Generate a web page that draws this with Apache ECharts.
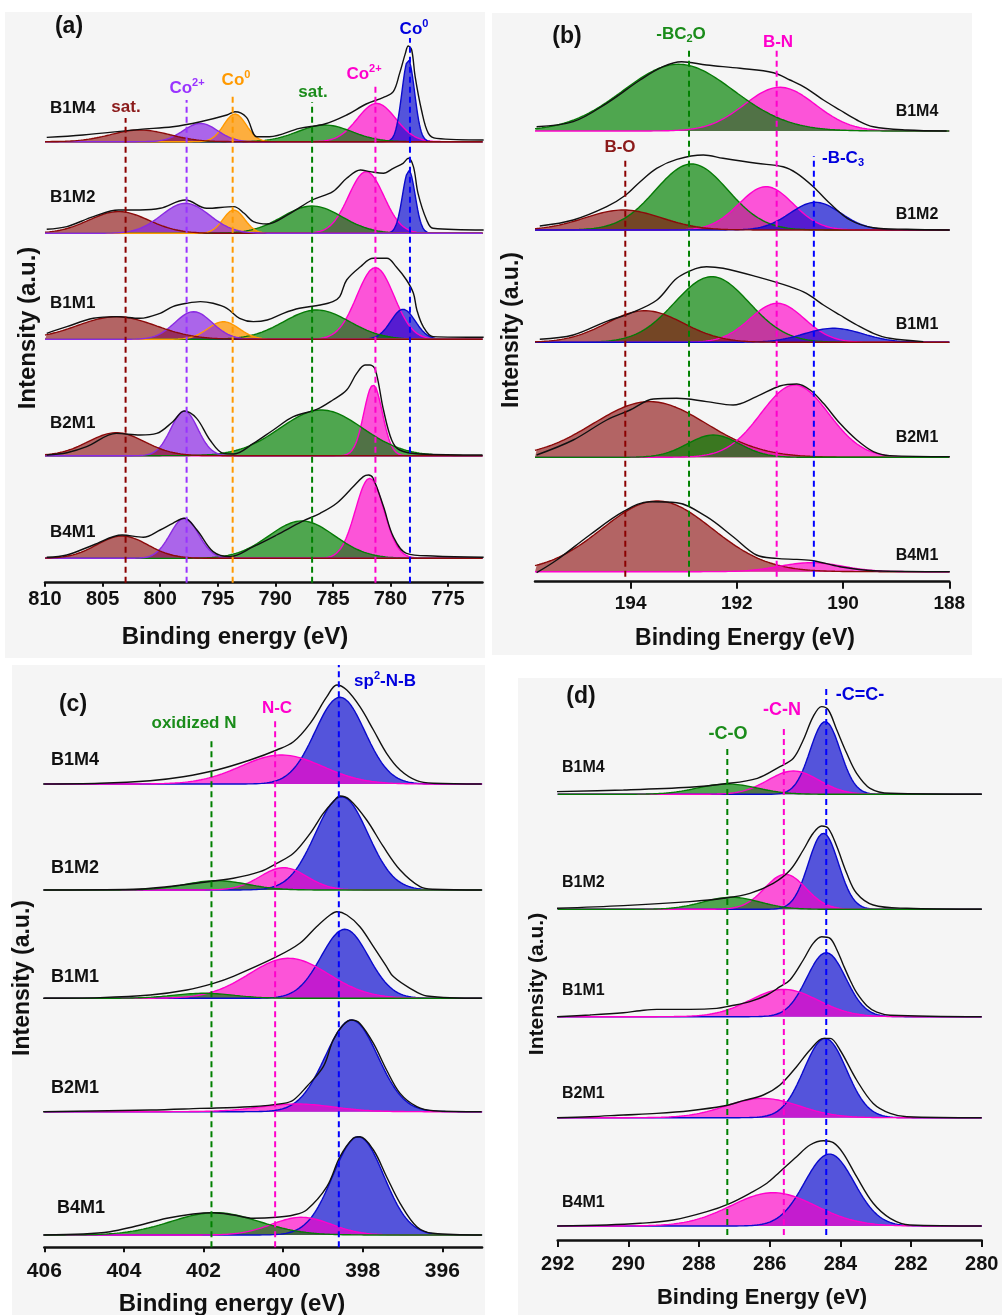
<!DOCTYPE html>
<html>
<head>
<meta charset="utf-8">
<script src="https://cdn.jsdelivr.net/npm/echarts@6/dist/echarts.min.js"></script>
<style>
  html, body { margin: 0; padding: 0; background: #ffffff; }
  #chart { width: 1002px; height: 1315px; }
</style>
</head>
<body>
<div id="chart"></div>
<script>
// ---------------------------------------------------------------------------
// XPS data. Samples are stacked top to bottom in this order.
// Fitted components: [component, centre (eV), height (a.u.), FWHM (eV)]
// Measured spectra:  [binding energy (eV), intensity above the sample baseline]
// ---------------------------------------------------------------------------
const samples = ['B1M4', 'B1M2', 'B1M1', 'B2M1', 'B4M1'];

// (a) Co 2p
const coTicks = [775, 780, 785, 790, 795, 800, 805, 810];
const coMarkers = [803.0, 797.7, 793.7, 786.8, 781.3, 778.3];
const coMarkerKeys = ['red', 'purple', 'orange', 'green', 'magenta', 'blue'];
const coFitB1M4 = [['magenta', 781.2, 38.3, 3.9], ['blue', 778.45, 81.7, 1.3], ['green', 785.7, 16.7, 5.5], ['orange', 793.5, 27.7, 2.3], ['purple', 796.5, 18.3, 3.5], ['red', 801.75, 11.7, 6.0]];
const coFitB1M2 = [['magenta', 782.1, 61.7, 3.6], ['blue', 778.4, 62.7, 1.3], ['green', 786.8, 27.3, 6.1], ['orange', 793.6, 23.3, 2.2], ['red', 803.6, 21.7, 6.1], ['purple', 797.8, 30, 4.9]];
const coFitB1M1 = [['magenta', 781.3, 71.7, 3.8], ['blue', 778.9, 30, 2.5], ['green', 786.4, 29.3, 6.7], ['orange', 794.5, 17.6, 3.2], ['purple', 797.1, 27.6, 3.8], ['red', 803.8, 22.6, 8.0]];
const coFitB2M1 = [['magenta', 781.5, 70.7, 1.9], ['green', 786.0, 45.7, 8.4], ['purple', 797.9, 44.7, 2.75], ['red', 803.8, 23, 5.8]];
const coFitB4M1 = [['magenta', 781.8, 80, 2.9], ['green', 787.7, 37.3, 6.7], ['purple', 797.9, 40, 2.9], ['red', 803.3, 22.3, 5.2]];
const coRawB1M4 = [[809.85, 4.3], [806.7, 6.7], [801.75, 12.3], [798.9, 15], [796.5, 20], [794.2, 26.7], [793.5, 30], [792.5, 24.3], [791.6, 5], [790.5, 5], [787.9, 13.3], [785.7, 17.7], [783.8, 26.7], [782.1, 37.7], [780.6, 44.3], [779.75, 50], [779.2, 68.3], [778.7, 88.3], [778.45, 95.7], [778.15, 91.7], [777.85, 65], [777.3, 31.7], [776.7, 8.3], [776.0, 3.3], [771.9, 1.7]];
const coRawB1M2 = [[809.85, 4], [808.1, 6.7], [805.8, 16.7], [803.6, 23.3], [801.75, 23.3], [800.0, 25], [797.8, 33.3], [795.96, 25], [793.6, 26.7], [792.7, 20], [791.9, 11.7], [790.7, 9.3], [788.7, 20], [786.8, 33.3], [785.0, 41.7], [783.8, 55], [782.6, 63.3], [781.77, 61.7], [780.6, 60], [779.75, 65], [778.9, 70], [778.45, 75], [778.0, 66.7], [777.6, 40], [776.85, 13.3], [776.3, 5], [771.9, 3.3]];
const coRawB1M1 = [[809.85, 6], [808.1, 12.7], [805.8, 21], [803.8, 22.7], [801.75, 21], [800.0, 26], [798.9, 32.7], [797.7, 36], [796.5, 37.7], [795.4, 36], [794.2, 31], [793.1, 21], [791.9, 17.7], [790.7, 19.3], [789.3, 26], [787.9, 31], [786.1, 34.3], [785.0, 37.7], [784.4, 42.7], [783.8, 59.3], [782.6, 72.6], [781.5, 81], [780.3, 81], [779.5, 72.6], [778.6, 59.3], [778.0, 46], [777.7, 29.3], [777.15, 12.7], [776.3, 2.7], [771.9, 2]];
const coRawB2M1 = [[809.85, 0.7], [808.1, 3], [806.38, 9], [803.8, 22.3], [801.75, 20.7], [800.3, 22.3], [798.9, 34], [797.9, 44.7], [796.83, 37.3], [795.67, 15.7], [794.51, 2.3], [793.6, 1.7], [791.9, 12.3], [790.17, 25.7], [788.43, 39], [786.4, 46.3], [785.0, 55.7], [783.8, 65.7], [782.93, 82.3], [782.2, 90.7], [781.77, 90.7], [781.3, 85.7], [780.6, 45.7], [779.89, 15.7], [779.2, 5.7], [777.43, 1.7], [772.0, 0.7]];
const coRawB4M1 = [[809.85, 1], [808.1, 3.3], [805.8, 13.3], [803.3, 23.3], [801.46, 21], [800.0, 28.3], [798.9, 35], [797.9, 40], [796.8, 28.3], [795.4, 6.7], [793.93, 1.7], [791.9, 11.7], [789.88, 23.3], [787.7, 36.7], [786.1, 45], [784.67, 55], [783.22, 71.7], [782.35, 81.7], [781.9, 83.3], [781.5, 80], [780.6, 51.7], [779.75, 21.7], [778.6, 5], [776.3, 2.3], [771.9, 1]];

// (b) B 1s
const bTicks = [188, 190, 192, 194];
const bMarkers = [194.1, 192.9, 191.25, 190.55];
const bMarkerKeys = ['red', 'green', 'magenta', 'blue'];
const bFitB1M4 = [['magenta', 191.19, 43.7, 1.57], ['green', 193.1, 66.7, 2.45]];
const bFitB1M2 = [['green', 192.85, 66, 1.6], ['magenta', 191.45, 43.3, 1.2], ['blue', 190.52, 27.7, 1.13], ['red', 194.14, 20, 1.7]];
const bFitB1M1 = [['green', 192.47, 65.6, 1.65], ['magenta', 191.24, 39, 1.2], ['blue', 190.18, 14, 1.3], ['red', 193.73, 31.6, 1.7]];
const bFitB2M1 = [['red', 193.64, 55.7, 2.5], ['magenta', 190.91, 72.3, 1.5], ['green', 192.44, 22.3, 1.15]];
const bFitB4M1 = [['red', 193.5, 70.7, 2.45], ['magenta', 190.6, 9, 1.4]];
const bRawB1M4 = [[195.77, 4.3], [195.08, 9.3], [194.45, 27.7], [193.82, 51], [193.39, 64.3], [193.04, 69.3], [192.57, 66], [191.94, 62.7], [191.31, 58.3], [191.0, 51], [190.69, 42.7], [190.37, 31], [190.06, 21], [189.74, 11], [189.43, 4.3], [188.8, 1], [188.05, 0]];
const bRawB1M2 = [[195.71, 4], [195.08, 10], [194.45, 23.3], [194.09, 35], [193.82, 48.3], [193.51, 61.7], [193.13, 70.7], [192.63, 75], [192.26, 71.7], [191.63, 66.7], [191.13, 63.3], [190.87, 56.7], [190.56, 43.3], [190.25, 26.7], [189.87, 10], [189.43, 2.3], [188.8, 0.7], [187.99, 0]];
const bRawB1M1 = [[195.71, 3], [195.08, 7.3], [194.45, 21], [194.01, 29], [193.51, 42], [193.13, 64], [192.76, 74], [192.57, 75.6], [192.26, 74], [191.63, 65.6], [191.0, 55.6], [190.69, 49], [190.37, 37.3], [190.06, 27.3], [189.74, 17.3], [189.43, 9], [189.12, 4], [188.49, 0.7]];
const bRawB2M1 = [[195.77, 2.3], [195.08, 17.3], [194.45, 37.3], [194.01, 47.3], [193.57, 58.3], [193.13, 59], [192.57, 55.7], [192.07, 52.3], [191.63, 60.7], [191.19, 71.3], [190.87, 73.3], [190.62, 67.3], [190.37, 54], [190.06, 34], [189.74, 17.3], [189.43, 5.7], [189.12, 1.7], [187.99, 0.7]];
const bRawB4M1 = [[195.77, -1], [195.39, 11.7], [194.77, 36.7], [194.14, 60], [193.64, 70], [193.13, 69], [192.57, 55], [192.07, 35], [191.63, 16.7], [191.25, 13.3], [190.87, 12.3], [190.56, 11], [190.06, 5], [189.43, 1], [187.99, 0]];

// (c) N 1s
const nTicks = [396, 398, 400, 402, 404, 406];
const nMarkers = [401.8, 400.2, 398.6];
const nMarkerKeys = ['green', 'magenta', 'blue'];
const nFitB1M4 = [['blue', 398.57, 86.7, 1.47], ['magenta', 400.04, 29, 2.43]];
const nFitB1M2 = [['blue', 398.53, 93.3, 1.55], ['magenta', 399.99, 22.3, 1.38], ['green', 401.67, 9.3, 1.84]];
const nFitB1M1 = [['blue', 398.45, 69, 1.4], ['magenta', 399.86, 40, 2.35], ['green', 402.0, 5, 1.8]];
const nFitB2M1 = [['blue', 398.28, 91.7, 1.55], ['magenta', 399.66, 7.7, 2.2]];
const nFitB4M1 = [['blue', 398.11, 98.3, 1.5], ['magenta', 399.54, 17.7, 1.76], ['green', 401.71, 22.3, 2.6]];
const nRawB1M4 = [[406.03, 0], [404.6, 0.7], [403.34, 3.3], [402.51, 7.3], [401.67, 14], [400.83, 24], [400.16, 34], [399.74, 42.3], [399.32, 60.7], [398.9, 87.3], [398.65, 99], [398.4, 94], [398.07, 77.3], [397.73, 54], [397.4, 30.7], [397.06, 14], [396.64, 3.3], [396.23, 0.7], [395.01, 0]];
const nRawB1M2 = [[406.03, 0], [403.76, 0.7], [402.92, 3.3], [402.09, 7.3], [401.25, 11.7], [400.58, 18.3], [400.16, 26.7], [399.74, 36.7], [399.32, 56.7], [398.99, 76.7], [398.74, 88.3], [398.57, 94], [398.32, 90], [397.9, 70], [397.48, 43.3], [397.06, 20], [396.56, 3.3], [396.23, 0.7], [395.01, 0]];
const nRawB1M1 = [[406.03, 0], [404.6, 0.7], [403.34, 3.3], [402.42, 8.3], [401.75, 15], [401.25, 22], [400.16, 41.6], [399.58, 55], [399.16, 71.6], [398.82, 83.3], [398.65, 86.6], [398.4, 83.3], [398.07, 71.6], [397.73, 51.6], [397.4, 31.6], [397.23, 21.7], [396.81, 10], [396.39, 2.3], [395.01, 0]];
const nRawB2M1 = [[406.03, 0], [403.34, 1.7], [402.09, 3.3], [400.83, 5], [399.99, 8.3], [399.74, 11.7], [399.41, 25], [398.99, 45], [398.74, 71.7], [398.49, 86.7], [398.28, 91.7], [398.07, 88.3], [397.73, 68.3], [397.4, 41.7], [397.06, 18.3], [396.64, 5], [396.23, 1], [395.01, 0]];
const nRawB4M1 = [[406.03, 0], [405.02, 1], [404.35, 3.3], [403.76, 8.3], [402.92, 16.7], [402.26, 21], [401.75, 22.3], [401.25, 20], [400.75, 16.7], [400.16, 17.7], [399.74, 20], [399.41, 25], [398.9, 48.3], [398.57, 78.3], [398.24, 96.7], [398.07, 98.3], [397.73, 85], [397.4, 58.3], [397.06, 31.7], [396.64, 8.3], [396.23, 1.7], [395.01, 0]];

// (d) C 1s
const cTicks = [280, 282, 284, 286, 288, 290, 292];
const cMarkers = [287.2, 285.6, 284.4];
const cMarkerKeys = ['green', 'magenta', 'blue'];
const cFitB1M4 = [['blue', 284.43, 72.7, 1.0], ['magenta', 285.33, 23.3, 1.7], ['green', 287.2, 10.3, 2.0]];
const cFitB1M2 = [['blue', 284.48, 76, 1.0], ['magenta', 285.56, 35, 1.37], ['green', 287.08, 12, 1.9]];
const cFitB1M1 = [['blue', 284.4, 64, 1.3], ['magenta', 285.6, 27.3, 2.26]];
const cFitB2M1 = [['blue', 284.43, 79.3, 1.42], ['magenta', 286.2, 19.3, 2.45]];
const cFitB4M1 = [['blue', 284.31, 72, 1.65], ['magenta', 285.9, 33.3, 2.83]];
const cRawB1M4 = [[292.03, 2.7], [290.14, 4.3], [288.26, 7], [287.31, 10.3], [286.35, 16], [285.71, 27.7], [285.33, 36], [285.05, 54.3], [284.77, 77.7], [284.53, 87.7], [284.34, 84.3], [284.1, 64.3], [283.82, 41], [283.54, 21], [283.16, 6], [282.59, 1], [280.0, 0]];
const cRawB1M2 = [[292.03, 1], [290.14, 3.7], [288.26, 7.7], [287.31, 11], [286.56, 16], [285.9, 26], [285.42, 39.3], [285.05, 59.3], [284.77, 76], [284.53, 83.3], [284.34, 81], [284.1, 62.7], [283.82, 36], [283.54, 16], [283.07, 4.3], [282.12, 1], [280.0, 0]];
const cRawB1M1 = [[292.03, 0], [291.09, 1.7], [290.14, 4], [289.67, 6], [289.2, 7.3], [288.26, 7.3], [287.5, 8.3], [287.12, 10.7], [286.56, 15], [286.08, 21.7], [285.71, 30], [285.42, 37], [285.05, 56.7], [284.77, 73.3], [284.53, 80], [284.29, 78.3], [284.1, 67], [283.92, 52], [283.73, 37], [283.54, 24], [283.25, 11], [282.97, 4.5], [282.59, 1.5], [280.0, 0]];
const cRawB2M1 = [[292.03, 0], [291.09, 1], [290.14, 2.7], [289.2, 4.3], [288.26, 7], [287.31, 11.7], [286.75, 17], [286.18, 22.7], [285.71, 32.7], [285.24, 51], [284.86, 67.7], [284.48, 79.3], [284.29, 79.3], [284.01, 67.7], [283.54, 37.7], [283.07, 14.3], [282.59, 4.3], [282.12, 1], [280.0, 0]];
const cRawB4M1 = [[292.03, 0], [290.61, 1], [289.67, 2.7], [288.73, 6], [287.78, 14.3], [287.12, 22.7], [286.56, 32.7], [286.08, 42.7], [285.71, 54.3], [285.24, 69.3], [284.86, 81], [284.48, 85.3], [284.2, 83.3], [283.92, 72.7], [283.54, 49.3], [283.07, 22.7], [282.59, 7.7], [282.03, 1], [280.0, 0]];

// ---------------------------------------------------------------------------
// Styling and layout
// ---------------------------------------------------------------------------
const FF = '"Liberation Sans", Arial, Helvetica, sans-serif';
const palette = {
  red:     { line: '#8b0a0a', fill: 'rgba(139,12,12,0.62)', dash: '#8b0000' },
  purple:  { line: '#8a2be2', fill: 'rgba(140,40,230,0.70)', dash: '#9933ff' },
  orange:  { line: '#ff9900', fill: 'rgba(255,150,0,0.75)', dash: '#ff9900' },
  green:   { line: '#067a06', fill: 'rgba(0,128,0,0.68)', dash: '#008000' },
  magenta: { line: '#ff00cc', fill: 'rgba(255,0,200,0.66)', dash: '#ff00cc' },
  blue:    { line: '#0a0acc', fill: 'rgba(0,0,205,0.66)', dash: '#0000ff' }
};

const panels = [
  { fits: [coFitB1M4, coFitB1M2, coFitB1M1, coFitB2M1, coFitB4M1],
    raws: [coRawB1M4, coRawB1M2, coRawB1M1, coRawB2M1, coRawB4M1],
    markers: coMarkers, markerKeys: coMarkerKeys, ticks: coTicks,
    xMin: 772, xMax: 810,
    grid: { left: 45, top: 20, width: 437.5, height: 562.7 },
    offsets: [441, 349.4, 243.4, 127, 24.4],
    markerTops: [464.7, 482.7, 487.7, 480.7, 499.7, 544.7], markerBottom: 0,
    labelSize: 20, labelMargin: 7, tickLen: 4 },
  { fits: [bFitB1M4, bFitB1M2, bFitB1M1, bFitB2M1, bFitB4M1],
    raws: [bRawB1M4, bRawB1M2, bRawB1M1, bRawB2M1, bRawB4M1],
    markers: bMarkers, markerKeys: bMarkerKeys, ticks: bTicks,
    xMin: 188, xMax: 195.8,
    grid: { left: 535, top: 15, width: 414.3, height: 566.7 },
    offsets: [450.7, 351.7, 239.4, 124.4, 10],
    markerTops: [424.7, 531.7, 531.7, 425.7], markerBottom: 5,
    labelSize: 19, labelMargin: 13, tickLen: 7 },
  { fits: [nFitB1M4, nFitB1M2, nFitB1M1, nFitB2M1, nFitB4M1],
    raws: [nRawB1M4, nRawB1M2, nRawB1M1, nRawB2M1, nRawB4M1],
    markers: nMarkers, markerKeys: nMarkerKeys, ticks: nTicks,
    xMin: 395, xMax: 406,
    grid: { left: 44.3, top: 662, width: 437.8, height: 585.3 },
    offsets: [463.3, 357.3, 249, 135.6, 12.3],
    markerTops: [509, 527.3, 582.3], markerBottom: 0,
    labelSize: 21, labelMargin: 13, tickLen: 5 },
  { fits: [cFitB1M4, cFitB1M2, cFitB1M1, cFitB2M1, cFitB4M1],
    raws: [cRawB1M4, cRawB1M2, cRawB1M1, cRawB2M1, cRawB4M1],
    markers: cMarkers, markerKeys: cMarkerKeys, ticks: cTicks,
    xMin: 280, xMax: 292,
    grid: { left: 557.7, top: 678, width: 424, height: 562 },
    offsets: [445.7, 330.7, 223.3, 122.3, 14],
    markerTops: [493.3, 515, 555], markerBottom: 5,
    labelSize: 20, labelMargin: 14, tickLen: 7 }
];

// Gaussian line shape of a fitted component
const K = 4 * Math.log(2);
function gaussian(c, h, w, x) {
  const d = x - c;
  return h * Math.exp(-K * d * d / (w * w));
}

const grids = [], xAxes = [], yAxes = [], series = [];

panels.forEach((p, i) => {
  grids.push(Object.assign({ outerBoundsMode: 'none', containLabel: false }, p.grid));
  xAxes.push({
    type: 'value', gridIndex: i, min: p.xMin, max: p.xMax, inverse: true,
    axisLine: { show: true, onZero: false, lineStyle: { color: '#111', width: 2.5 } },
    axisTick: { show: true, inside: false, length: p.tickLen, customValues: p.ticks,
                lineStyle: { color: '#111', width: 2 } },
    axisLabel: { show: true, customValues: p.ticks, color: '#111', fontSize: p.labelSize,
                 fontWeight: 'bold', fontFamily: FF, margin: p.labelMargin },
    splitLine: { show: false }, minorTick: { show: false }
  });
  yAxes.push({ type: 'value', gridIndex: i, min: 0, max: p.grid.height, show: false,
               splitLine: { show: false } });

  // energy grid the component curves are evaluated on
  const xs = [];
  const n = 500;
  for (let k = 0; k <= n; k++) xs.push(p.xMin + (p.xMax - p.xMin) * k / n);

  p.fits.forEach((fit, s) => {
    const o = p.offsets[s];
    fit.forEach(([key, c, h, w]) => {
      const col = palette[key];
      series.push({
        type: 'line', xAxisIndex: i, yAxisIndex: i, silent: true,
        showSymbol: false, symbol: 'none', z: 2,
        data: xs.map(x => [x, o + gaussian(c, h, w, x)]),
        lineStyle: { color: col.line, width: 1.4 },
        areaStyle: { color: col.fill, origin: o, opacity: 1 }
      });
    });
    series.push({
      type: 'line', xAxisIndex: i, yAxisIndex: i, silent: true,
      showSymbol: false, symbol: 'none', smooth: 0.35, z: 3,
      data: p.raws[s].map(([x, y]) => [x, o + y]),
      lineStyle: { color: '#111', width: 1.4 }
    });
  });

  p.markers.forEach((e, m) => {
    series.push({
      type: 'line', xAxisIndex: i, yAxisIndex: i, silent: true,
      showSymbol: false, symbol: 'none', z: 4,
      data: [[e, p.markerBottom], [e, p.markerTops[m]]],
      lineStyle: { color: palette[p.markerKeys[m]].dash, width: 2, type: [6, 4] }
    });
  });
});

// ---------------------------------------------------------------------------
// Text and panel backgrounds
// ---------------------------------------------------------------------------
function text(x, y, str, color, size, extra) {
  const sub = Math.round(size * 0.62);
  return Object.assign({
    type: 'text', x: x, y: y, z: 100,
    style: {
      text: str, fill: color, align: 'center', verticalAlign: 'middle',
      font: 'bold ' + size + 'px ' + FF,
      rich: {
        m: { fontSize: size, fontWeight: 'bold', fontFamily: FF, fill: color, lineHeight: size + 4 },
        s: { fontSize: sub, fontWeight: 'bold', fontFamily: FF, fill: color, lineHeight: sub + 1, verticalAlign: 'top' },
        b: { fontSize: sub, fontWeight: 'bold', fontFamily: FF, fill: color, lineHeight: sub + 1, verticalAlign: 'bottom' }
      }
    }
  }, extra || {});
}
function leftText(x, y, str, size) {
  return { type: 'text', x: x, y: y, z: 100,
           style: { text: str, fill: '#111', align: 'left', verticalAlign: 'middle',
                    font: 'bold ' + size + 'px ' + FF } };
}
function vText(x, y, str, size) {
  return text(x, y, str, '#111', size, { rotation: Math.PI / 2 });
}
function bg(x, y, w, h) {
  return { type: 'rect', z: -10, silent: true, shape: { x: x, y: y, width: w, height: h },
           style: { fill: '#f5f5f5' } };
}

const graphics = [
  bg(5, 12, 480, 646), bg(492, 13, 480, 642), bg(12, 665, 473, 650), bg(518, 678, 484, 637),

  // (a)
  text(69, 27, '(a)', '#111', 23),
  text(126, 107, 'sat.', '#8b1a1a', 17),
  text(187, 88, '{m|Co}{s|2+}', '#9933ff', 17),
  text(236, 80, '{m|Co}{s|0}', '#ff9900', 17),
  text(313, 92, 'sat.', '#1a8c1a', 17),
  text(364, 74, '{m|Co}{s|2+}', '#ff00cc', 17),
  text(414, 29, '{m|Co}{s|0}', '#0000dd', 17),
  text(235, 637, 'Binding energy (eV)', '#111', 24),
  vText(28, 328, 'Intensity (a.u.)', 24),

  // (b)
  text(567, 37, '(b)', '#111', 23),
  text(681, 34, '{m|-BC}{b|2}{m|O}', '#1a8c1a', 17),
  text(778, 42, 'B-N', '#ff00cc', 17),
  text(620, 147, 'B-O', '#8b1a1a', 17),
  text(843, 158, '{m|-B-C}{b|3}', '#0000dd', 17),
  text(745, 639, 'Binding Energy (eV)', '#111', 23),
  vText(512, 330, 'Intensity (a.u.)', 23),

  // (c)
  text(73, 705, '(c)', '#111', 23),
  text(194, 723, 'oxidized N', '#1a8c1a', 17),
  text(277, 708, 'N-C', '#ff00cc', 17),
  text(385, 681, '{m|sp}{s|2}{m|-N-B}', '#0000dd', 17),
  text(232, 1304, 'Binding energy (eV)', '#111', 24),
  vText(23, 978, 'Intensity (a.u.)', 23),

  // (d)
  text(581, 697, '(d)', '#111', 23),
  text(728, 734, '-C-O', '#1a8c1a', 18),
  text(782, 710, '-C-N', '#ff00cc', 18),
  text(860, 695, '-C=C-', '#0000dd', 18),
  text(762, 1298, 'Binding Energy (eV)', '#111', 22),
  vText(537, 984, 'Intensity (a.u.)', 21)
];

// sample names beside each stacked spectrum
const nameA = [108, 197, 303, 423, 532];
const nameB = [112, 215, 325, 438, 556];
const nameC = [760, 868, 977, 1088, 1208];
const nameD = [768, 883, 991, 1094, 1203];
samples.forEach((s, k) => {
  graphics.push(leftText(50, nameA[k], s, 17));
  graphics.push(text(917, nameB[k], s, '#111', 16));
  graphics.push(leftText(k === 4 ? 57 : 51, nameC[k], s, 18));
  graphics.push(leftText(562, nameD[k], s, 16));
});

const chart = echarts.init(document.getElementById('chart'), null, { renderer: 'canvas' });
chart.setOption({
  backgroundColor: '#ffffff',
  animation: false,
  textStyle: { fontFamily: FF },
  grid: grids,
  xAxis: xAxes,
  yAxis: yAxes,
  series: series,
  graphic: { elements: graphics }
});
</script>
</body>
</html>
